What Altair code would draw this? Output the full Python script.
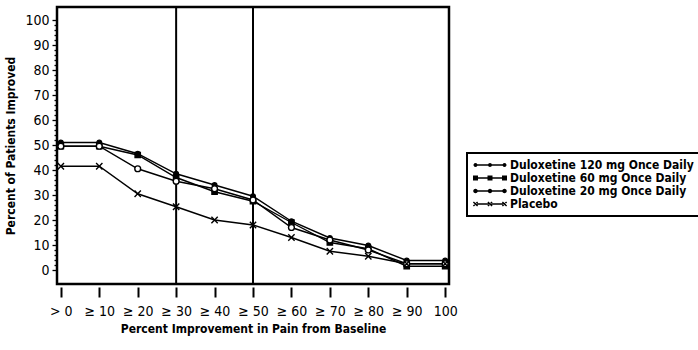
import altair as alt
import pandas as pd

categories = ["> 0", "≥ 10", "≥ 20", "≥ 30", "≥ 40", "≥ 50", "≥ 60", "≥ 70", "≥ 80", "≥ 90", "100"]
series_names = [
    "Duloxetine 120 mg Once Daily",
    "Duloxetine 60 mg Once Daily",
    "Duloxetine 20 mg Once Daily",
    "Placebo",
]
dul120 = [51.0, 51.0, 46.5, 38.5, 34.0, 29.5, 19.5, 12.8, 9.8, 3.8, 3.8]
dul60 = [49.5, 49.5, 46.0, 37.0, 31.3, 27.5, 19.0, 11.0, 8.5, 1.5, 1.5]
dul20 = [49.5, 49.5, 40.5, 35.5, 32.5, 28.0, 17.0, 12.0, 8.0, 2.5, 2.5]
placebo = [41.5, 41.5, 30.5, 25.3, 20.0, 18.0, 13.0, 7.5, 5.5, 2.5, 2.5]
reference_categories = ["≥ 30", "≥ 50"]

rows = []
for name, vals in zip(series_names, [dul120, dul60, dul20, placebo]):
    for c, v in zip(categories, vals):
        rows.append({"category": c, "percent": v, "series": name})
df = pd.DataFrame(rows)
ref_df = pd.DataFrame({"category": reference_categories})

FONT = "DejaVu Sans Condensed, Liberation Sans, sans-serif"

x_enc = alt.X(
    "category:O",
    sort=categories,
    scale=alt.Scale(type="point", padding=0.1),
    axis=alt.Axis(
        title="Percent Improvement in Pain from Baseline",
        domain=False,
        tickSize=10,
        tickWidth=2,
        tickColor="black",
        offset=3,
        labelAngle=0,
        labelFont=FONT,
        labelFontSize=14,
        labelColor="black",
        labelPadding=7,
        titleFont=FONT,
        titleFontSize=12,
        titleFontWeight="bold",
        titleColor="black",
        titlePadding=5,
    ),
)
y_enc = alt.Y(
    "percent:Q",
    scale=alt.Scale(domain=[-5.6, 105.2], nice=False, zero=False),
    axis=alt.Axis(
        title="Percent of Patients Improved",
        values=list(range(0, 101, 2)),
        labelExpr="datum.value % 10 === 0 ? datum.label : ''",
        labelOverlap=False,
        tickSize={"condition": {"test": "datum.value % 10 === 0", "value": 5}, "value": 3},
        tickWidth=1.3,
        tickColor="black",
        domain=False,
        grid=False,
        labelFont=FONT,
        labelFontSize=14,
        labelColor="black",
        labelPadding=3,
        titleFont=FONT,
        titleFontSize=12,
        titleFontWeight="bold",
        titleColor="black",
        titlePadding=7,
    ),
)

lines = alt.Chart(df).mark_line(color="black", strokeWidth=1.4).encode(
    x=x_enc, y=y_enc, detail="series:N"
)

points = alt.Chart(df).mark_point(filled=True, stroke="black", strokeWidth=1.4, opacity=1).encode(
    x=x_enc,
    y=y_enc,
    shape=alt.Shape(
        "series:N",
        scale=alt.Scale(domain=series_names, range=["circle", "square", "circle", "M-1,-1L1,1M-1,1L1,-1"]),
        legend=None,
    ),
    fill=alt.Fill(
        "series:N",
        scale=alt.Scale(domain=series_names, range=["black", "black", "white", "transparent"]),
        legend=None,
    ),
    size=alt.Size(
        "series:N",
        scale=alt.Scale(domain=series_names, range=[22, 40, 24, 32]),
        legend=None,
    ),
)

def circ(cx, r=0.4):
    return f"M{cx - r},0A{r},{r} 0 1,1 {cx + r},0A{r},{r} 0 1,1 {cx - r},0Z"

def sq(cx, h=0.5):
    return f"M{cx - h},{-h}L{cx + h},{-h}L{cx + h},{h}L{cx - h},{h}Z"

def xx(cx, h=0.42, t=0.1):
    b1 = f"M{cx - h + t},{-h - t}L{cx + h + t},{h - t}L{cx + h - t},{h + t}L{cx - h - t},{-h + t}Z"
    b2 = f"M{cx - h - t},{h - t}L{cx - h + t},{h + t}L{cx + h + t},{-h + t}L{cx + h - t},{-h - t}Z"
    return b1 + b2

line_path = "M-3.2,-0.13L3.2,-0.13L3.2,0.13L-3.2,0.13Z"
legend_paths = [
    line_path + "".join(circ(c, 0.4) for c in (-2.9, 0, 2.9)),
    line_path + "".join(sq(c) for c in (-2.9, 0, 2.9)),
    line_path + "".join(circ(c, 0.45) for c in (-2.9, 0, 2.9)),
    line_path + "".join(xx(c) for c in (-2.9, 0, 2.9)),
]

legend_layer = alt.Chart(df).mark_point(
    filled=True, color="black", opacity=1
).encode(
    x=x_enc,
    y=y_enc,
    shape=alt.Shape(
        "series:N",
        scale=alt.Scale(domain=series_names, range=legend_paths),
        legend=alt.Legend(
            title=None,
            orient="none",
            legendX=410,
            legendY=146,
            symbolSize=100,
            symbolFillColor="black",
            symbolOffset=11,
            labelOffset=14,
            labelFont=FONT,
            labelFontSize=12,
            labelFontWeight="bold",
            labelColor="black",
            labelLimit=0,
            rowPadding=1,
            padding=6,
            strokeColor="black",
        ),
    ),
).transform_filter("false")

rules = alt.Chart(ref_df).mark_rule(color="black", strokeWidth=2).encode(x=x_enc)

chart = (
    alt.layer(rules, lines, points, legend_layer)
    .resolve_scale(shape="independent")
    .properties(
        width=392,
        height=277,
        padding={"left": 57, "top": 7, "right": 249, "bottom": 66},
        autosize=alt.AutoSizeParams(type="none"),
        background="white",
    )
    .configure_view(stroke="black", strokeWidth=2.5)
    .configure_legend(strokeWidth=2)
)

chart.save("out.html", embed_options={"renderer": "svg", "actions": False})
